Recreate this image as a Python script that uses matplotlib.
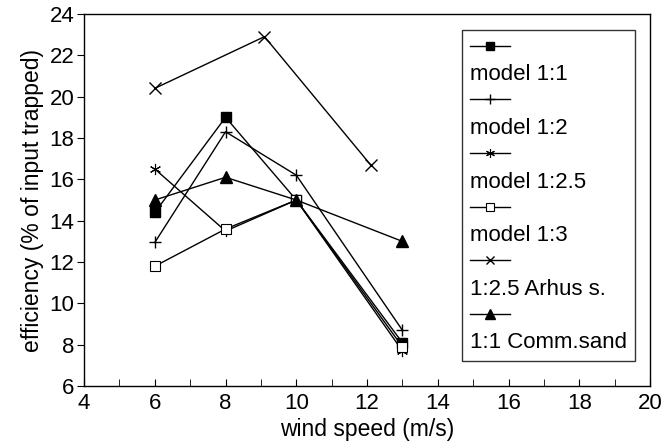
import matplotlib as mpl

mpl.use("Agg")
import matplotlib.pyplot as plt
from matplotlib.lines import Line2D

plt.rcParams["font.family"] = ["Liberation Sans", "DejaVu Sans"]

# values
wind = [6, 8, 10, 13]
model_1_1 = [14.4, 19.0, 15.0, 8.1]
model_1_2 = [12.95, 18.3, 16.2, 8.7]
model_1_25 = [16.5, 13.5, 15.0, 7.7]
model_1_3 = [11.8, 13.6, 15.0, 7.9]
arhus_wind = [6, 9.1, 12.1]
arhus = [20.4, 22.9, 16.7]
comm_sand = [15.0, 16.1, 15.0, 13.0]

labels = ["model 1:1", "model 1:2", "model 1:2.5", "model 1:3",
          "1:2.5 Arhus s.", "1:1 Comm.sand"]

FS = 16

fig = plt.figure(figsize=(6.62, 4.48), dpi=100)
ax = fig.add_axes([0.127, 0.138, 0.855, 0.831])

kw = dict(color="black", linewidth=1.0)
series = [
    (wind, model_1_1, dict(marker="s", markersize=7, markerfacecolor="black")),
    (wind, model_1_2, dict(marker="+", markersize=9, markeredgewidth=1.0)),
    (wind, model_1_25, dict(marker=(6, 2, 0), markersize=8, markeredgewidth=0.8)),
    (wind, model_1_3, dict(marker="s", markersize=7, markerfacecolor="white",
                           markeredgewidth=0.8)),
    (arhus_wind, arhus, dict(marker="x", markersize=8, markeredgewidth=1.0)),
    (wind, comm_sand, dict(marker="^", markersize=9, markerfacecolor="black")),
]
handles = []
for x, y, mk in series:
    (h,) = ax.plot(x, y, **kw, **mk)
    handles.append(h)

ax.set_xlim(4, 20)
ax.set_ylim(6, 24)
ax.set_xticks(range(4, 21, 2))
ax.set_xticks(range(5, 20, 2), minor=True)
ax.set_yticks(range(6, 25, 2))
ax.tick_params(axis="x", direction="in", length=5, labelsize=FS, pad=5)
ax.tick_params(axis="x", which="minor", direction="in", length=5)
ax.tick_params(axis="y", direction="out", length=5, labelsize=FS, pad=2)
for s in ax.spines.values():
    s.set_linewidth(1.0)

ax.set_xlabel("wind speed (m/s)", fontsize=FS + 0.5, labelpad=3)
ax.set_ylabel("efficiency (% of input trapped)", fontsize=FS + 0.5, labelpad=4)

# legend: marker sample on one row, its label on the row below
leg_handles, leg_labels = [], []
blank = Line2D([], [], linestyle="none")
for h, lab in zip(handles, labels):
    leg_handles += [h, blank]
    leg_labels += ["", lab]
leg = ax.legend(leg_handles, leg_labels, loc="upper right",
                bbox_to_anchor=(0.973, 0.957), fontsize=FS,
                handlelength=1.8, handletextpad=-1.8, labelspacing=0.26,
                borderpad=0.35, frameon=True, fancybox=False,
                edgecolor="black", borderaxespad=0, markerscale=0.8)
leg.get_frame().set_linewidth(1.0)

fig.savefig("out.png", dpi=100)
